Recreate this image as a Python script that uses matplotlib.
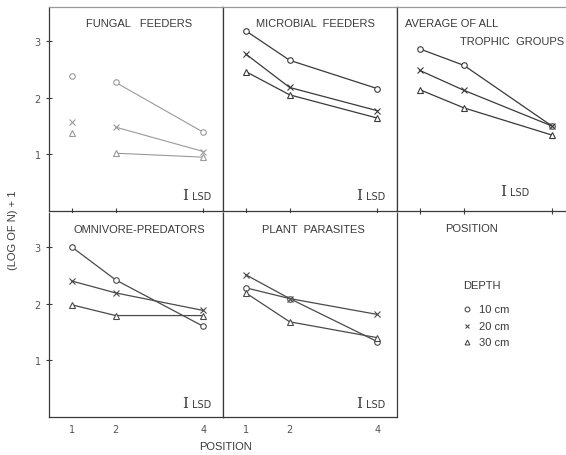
import matplotlib.pyplot as plt

# positions along the transect and depth classes
positions = [1, 2, 4]
depths = ['10 cm', '20 cm', '30 cm']
markers = ['o', 'x', '^']

# (log of N) + 1 for each depth (10, 20, 30 cm) at positions 1, 2, 4
fungal = [[2.38, 2.27, 1.39], [1.57, 1.48, 1.05], [1.37, 1.02, 0.95]]
microbial = [[3.18, 2.66, 2.16], [2.77, 2.18, 1.77], [2.46, 2.05, 1.64]]
average = [[2.86, 2.57, 1.50], [2.48, 2.13, 1.50], [2.14, 1.82, 1.34]]
omnivore = [[3.00, 2.42, 1.60], [2.40, 2.19, 1.88], [1.98, 1.79, 1.79]]
plant = [[2.28, 2.09, 1.33], [2.51, 2.09, 1.81], [2.19, 1.68, 1.40]]

ink = '#3a3a3a'
faint = '#9a9a9a'

fig = plt.figure(figsize=(5.66, 4.56), dpi=100)

L = 49 / 566
W = 174 / 566
top_b = 1 - 212 / 456
bot_b = 1 - 418 / 456
H = (212 - 8) / 456


def make_ax(col, row, width=W, xmax=4.45):
    b = top_b if row == 0 else bot_b
    ax = fig.add_axes([L + col * W, b, width, H])
    ax.set_xlim(0.48, xmax)
    ax.set_ylim(0, 3.6)
    for s in ax.spines.values():
        s.set_color(ink)
        s.set_linewidth(0.9)
    ax.tick_params(colors=ink, labelcolor='#555555', labelsize=7,
                   direction='inout', length=5, width=0.8)
    ax.set_xticks(positions)
    ax.set_yticks([1, 2, 3])
    ax.tick_params(axis='x', labelbottom=False)
    ax.tick_params(axis='y', labelleft=False, length=0)
    return ax


def draw(ax, data, color, skip_first=False):
    for vals, m in zip(data, markers):
        if skip_first:
            ax.plot(positions[1:], vals[1:], color=color, lw=0.8)
            ax.plot(positions, vals, ls='none', marker=m, ms=4, mfc='white',
                    mec=color, mew=0.8)
        else:
            ax.plot(positions, vals, color=color, lw=0.9, marker=m, ms=4,
                    mfc='white', mec=color, mew=0.8)


def lsd(ax, x=0.78, y=0.08):
    ax.text(x, y, 'I', transform=ax.transAxes, family='DejaVu Serif',
            fontsize=11, color=ink, ha='center', va='center')
    ax.text(x + 0.04, y - 0.005, 'LSD', transform=ax.transAxes, fontsize=7,
            color=ink, ha='left', va='center')


title_kw = dict(fontsize=8, color=ink, family='Liberation Sans')

# top-left: fungal feeders
ax1 = make_ax(0, 0)
draw(ax1, fungal, faint, skip_first=True)
ax1.spines['top'].set_color(faint)
ax1.text(0.52, 0.92, 'FUNGAL   FEEDERS', transform=ax1.transAxes,
         ha='center', va='center', **title_kw)
ax1.tick_params(axis='y', labelleft=True, length=4, pad=4)
lsd(ax1)

# top-middle: microbial feeders
ax2 = make_ax(1, 0)
draw(ax2, microbial, ink)
ax2.spines['top'].set_color(faint)
ax2.text(0.53, 0.92, 'MICROBIAL  FEEDERS', transform=ax2.transAxes,
         ha='center', va='center', **title_kw)
lsd(ax2)

# top-right: average
ax3 = make_ax(2, 0, width=1 - (L + 2 * W), xmax=4.32)
draw(ax3, average, ink)
ax3.spines['right'].set_visible(False)
ax3.spines['top'].set_color(faint)
ax3.text(0.05, 0.92, 'AVERAGE OF ALL', transform=ax3.transAxes,
         ha='left', va='center', **title_kw)
ax3.text(0.99, 0.835, 'TROPHIC  GROUPS', transform=ax3.transAxes,
         ha='right', va='center', **title_kw)
lsd(ax3, x=0.63, y=0.10)
ax3.text(0.44, -0.085, 'POSITION', transform=ax3.transAxes, ha='center',
         va='center', **title_kw)

# bottom-left: omnivore-predators
ax4 = make_ax(0, 1)
draw(ax4, omnivore, '#4a4a4a')
ax4.spines['top'].set_visible(False)
ax4.text(0.52, 0.92, 'OMNIVORE-PREDATORS', transform=ax4.transAxes,
         ha='center', va='center', **title_kw)
ax4.tick_params(axis='y', labelleft=True, length=4, pad=4)
ax4.tick_params(axis='x', labelbottom=True, length=0, pad=5)
lsd(ax4, y=0.07)

# bottom-middle: plant parasites
ax5 = make_ax(1, 1)
draw(ax5, plant, '#4a4a4a')
ax5.spines['top'].set_visible(False)
ax5.text(0.52, 0.92, 'PLANT  PARASITES', transform=ax5.transAxes,
         ha='center', va='center', **title_kw)
ax5.tick_params(axis='x', labelbottom=True, length=0, pad=5)
lsd(ax5, y=0.07)

# legend in empty bottom-right cell
fig.text(463 / 566, 1 - 286 / 456, 'DEPTH', fontsize=8, color=ink,
         family='Liberation Sans', va='center')
for i, (d, m) in enumerate(zip(depths, markers)):
    yy = 1 - (310 + i * 16.5) / 456
    fig.lines.append(plt.Line2D([467 / 566], [yy], transform=fig.transFigure,
                                marker=m, ms=3.5, mfc='white', mec=ink,
                                mew=0.7, ls='none'))
    fig.text(479 / 566, yy, d, fontsize=8, color=ink,
             family='Liberation Sans', va='center')

fig.text(225 / 566, 1 - 447 / 456, 'POSITION', ha='center', va='center',
         **title_kw)
fig.text(13 / 566, 1 - 230 / 456, '(LOG OF N) + 1', rotation=90,
         ha='center', va='center', **title_kw)

fig.savefig('out.png', dpi=100)
